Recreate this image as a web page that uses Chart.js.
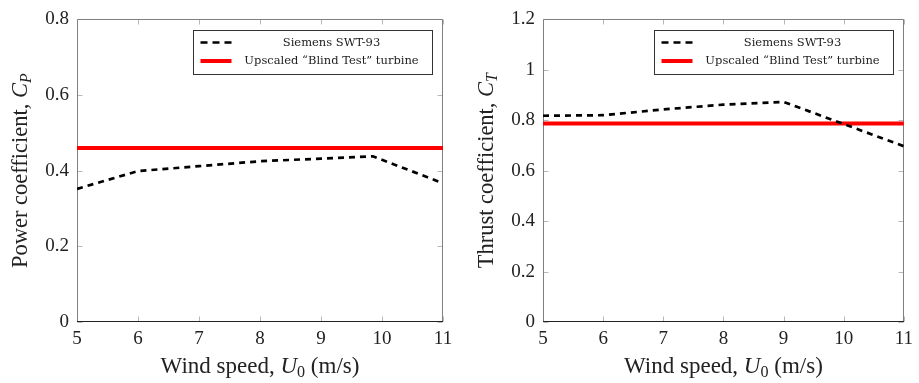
<!DOCTYPE html>
<html><head><meta charset="utf-8">
<script src="https://cdn.jsdelivr.net/npm/chart.js@4"></script>
<style>
html,body{margin:0;padding:0;background:#fff;}
#wrap{position:relative;width:919px;height:383px;overflow:hidden;}
.cell{position:absolute;top:0;height:383px;}
</style></head><body>
<div id="wrap">
<div class="cell" style="left:0;width:459px"><canvas id="cp" width="459" height="383"></canvas></div>
<div class="cell" style="left:459px;width:460px"><canvas id="ct" width="460" height="383"></canvas></div>
</div>
<script>
// ---- data ----
const windCp = [5, 6, 7, 8, 9, 9.85, 11];
const siemensCp = [0.352, 0.399, 0.412, 0.425, 0.432, 0.438, 0.367];
const windBlind = [5, 11];
const blindCp = [0.46, 0.46];
const windCt = [5, 6, 7, 8, 9, 11];
const siemensCt = [0.818, 0.82, 0.843, 0.862, 0.873, 0.697];
const blindCt = [0.787, 0.787];
const xTicks = [5, 6, 7, 8, 9, 10, 11];
const cpTicks = [0, 0.2, 0.4, 0.6, 0.8];
const ctTicks = [0, 0.2, 0.4, 0.6, 0.8, 1, 1.2];
const seriesNames = ['Siemens SWT-93', 'Upscaled \u201cBlind Test\u201d turbine'];
const xTitle = [{t:'Wind speed, '}, {t:'U', it:true}, {t:'0', sub:true}, {t:' (m/s)'}];
const cpTitle = [{t:'Power coefficient, '}, {t:'C', it:true}, {t:'P', it:true, sub:true}];
const ctTitle = [{t:'Thrust coefficient, '}, {t:'C', it:true}, {t:'T', it:true, sub:true}];

const SERIF = '"Liberation Serif", "DejaVu Serif", serif';
const TXT = '#222';

function drawRich(ctx, parts, cx, cy, size, rot) {
  ctx.save();
  ctx.translate(cx, cy);
  if (rot) ctx.rotate(-Math.PI / 2);
  let total = 0;
  const m = parts.map(p => {
    const fs = p.sub ? size * 0.7 : size;
    const f = (p.it ? 'italic ' : '') + fs + 'px ' + SERIF;
    ctx.font = f;
    const w = ctx.measureText(p.t).width;
    total += w;
    return {f, w, dy: p.sub ? size * 0.17 : 0, t: p.t};
  });
  let x = -total / 2;
  ctx.textBaseline = 'alphabetic';
  ctx.textAlign = 'left';
  ctx.fillStyle = TXT;
  const base = size * 0.33;
  m.forEach(p => { ctx.font = p.f; ctx.fillText(p.t, x, base + p.dy); x += p.w; });
  ctx.restore();
}

const decoPlugin = {
  id: 'deco',
  beforeDatasetsDraw(chart) {
    const {ctx, chartArea: ca, scales} = chart;
    const L = Math.round(ca.left) + 0.5, R = Math.round(ca.right) - 0.5;
    const T = Math.round(ca.top) + 0.5, B = Math.round(ca.bottom) - 0.5;
    ctx.save();
    ctx.strokeStyle = '#b8b8b8';
    ctx.lineWidth = 1;
    ctx.beginPath();
    scales.x.ticks.forEach(t => {
      const px = Math.round(scales.x.getPixelForValue(t.value)) + 0.5;
      ctx.moveTo(px, B); ctx.lineTo(px, B - 5);
      ctx.moveTo(px, T); ctx.lineTo(px, T + 5);
    });
    scales.y.ticks.forEach(t => {
      const py = Math.round(scales.y.getPixelForValue(t.value)) + 0.5;
      ctx.moveTo(L, py); ctx.lineTo(L + 5, py);
      ctx.moveTo(R, py); ctx.lineTo(R - 5, py);
    });
    ctx.stroke();
    ctx.strokeStyle = '#808080';
    ctx.beginPath();
    ctx.moveTo(L, B); ctx.lineTo(L, T); ctx.lineTo(R, T); ctx.lineTo(R, B);
    ctx.stroke();
    ctx.strokeStyle = '#222';
    ctx.beginPath();
    ctx.moveTo(L - 0.5, B); ctx.lineTo(R + 0.5, B);
    ctx.stroke();
    ctx.restore();
  },
  afterDraw(chart, args, opts) {
    const {ctx, chartArea: ca} = chart;
    drawRich(ctx, xTitle, (ca.left + ca.right) / 2, 365, 23, false);
    drawRich(ctx, opts.yTitle, ca.left - 57, (ca.top + ca.bottom) / 2, 22.5, true);
    const w = 239, h = 44;
    const lx = Math.round(ca.right - 11 - w) + 0.5, ly = Math.round(ca.top + 11) + 0.5;
    ctx.save();
    ctx.fillStyle = '#fff';
    ctx.fillRect(lx, ly, w, h);
    ctx.strokeStyle = '#333';
    ctx.lineWidth = 1;
    ctx.strokeRect(lx, ly, w, h);
    const ds = chart.data.datasets;
    const rows = [ly + 12, ly + 30.5];
    ds.forEach((d, i) => {
      ctx.save();
      ctx.strokeStyle = d.borderColor;
      ctx.lineWidth = d.borderWidth;
      ctx.setLineDash(d.borderDash ? [7, 5] : []);
      ctx.beginPath();
      ctx.moveTo(lx + 7, rows[i]);
      ctx.lineTo(lx + 38, rows[i]);
      ctx.stroke();
      ctx.restore();
      ctx.fillStyle = TXT;
      ctx.font = '11.5px "DejaVu Serif", serif';
      ctx.textAlign = 'center';
      ctx.textBaseline = 'middle';
      ctx.fillText(d.label, lx + 138, rows[i] + 0.5);
    });
    ctx.restore();
  }
};

function makeChart(id, wind, siem, blind, yMax, yTicks, yTitle, yAxisWidth, padRight) {
  return new Chart(document.getElementById(id), {
    type: 'line',
    data: {
      datasets: [
        {label: seriesNames[0], data: wind.map((x, i) => ({x, y: siem[i]})),
         borderColor: '#000', borderWidth: 2.7, borderDash: [6, 5], pointRadius: 0, tension: 0, fill: false},
        {label: seriesNames[1], data: windBlind.map((x, i) => ({x, y: blind[i]})),
         borderColor: '#ff0000', borderWidth: 4, pointRadius: 0, tension: 0, fill: false}
      ]
    },
    options: {
      responsive: false, animation: false, devicePixelRatio: 1,
      layout: {padding: {top: 16, right: padRight, left: 0, bottom: 0}},
      plugins: {legend: {display: false}, tooltip: {enabled: false}, deco: {yTitle}},
      scales: {
        x: {
          type: 'linear', min: 5, max: 11,
          afterBuildTicks: s => { s.ticks = xTicks.map(v => ({value: v})); },
          afterFit: s => { s.height = 61; },
          grid: {display: false, drawTicks: false}, border: {display: false},
          ticks: {font: {family: SERIF, size: 19}, color: TXT, padding: 6, maxRotation: 0, autoSkip: false,
                  callback: v => String(v)}
        },
        y: {
          type: 'linear', min: 0, max: yMax,
          afterBuildTicks: s => { s.ticks = yTicks.map(v => ({value: v})); },
          afterFit: s => { s.width = yAxisWidth; },
          grid: {display: false, drawTicks: false}, border: {display: false},
          ticks: {font: {family: SERIF, size: 19}, color: TXT, padding: 8, autoSkip: false,
                  callback: v => String(v)}
        }
      }
    },
    plugins: [decoPlugin]
  });
}

makeChart('cp', windCp, siemensCp, blindCp, 0.8, cpTicks, cpTitle, 77, 16);
makeChart('ct', windCt, siemensCt, blindCt, 1.2, ctTicks, ctTitle, 84, 9);
</script>
</body></html>
